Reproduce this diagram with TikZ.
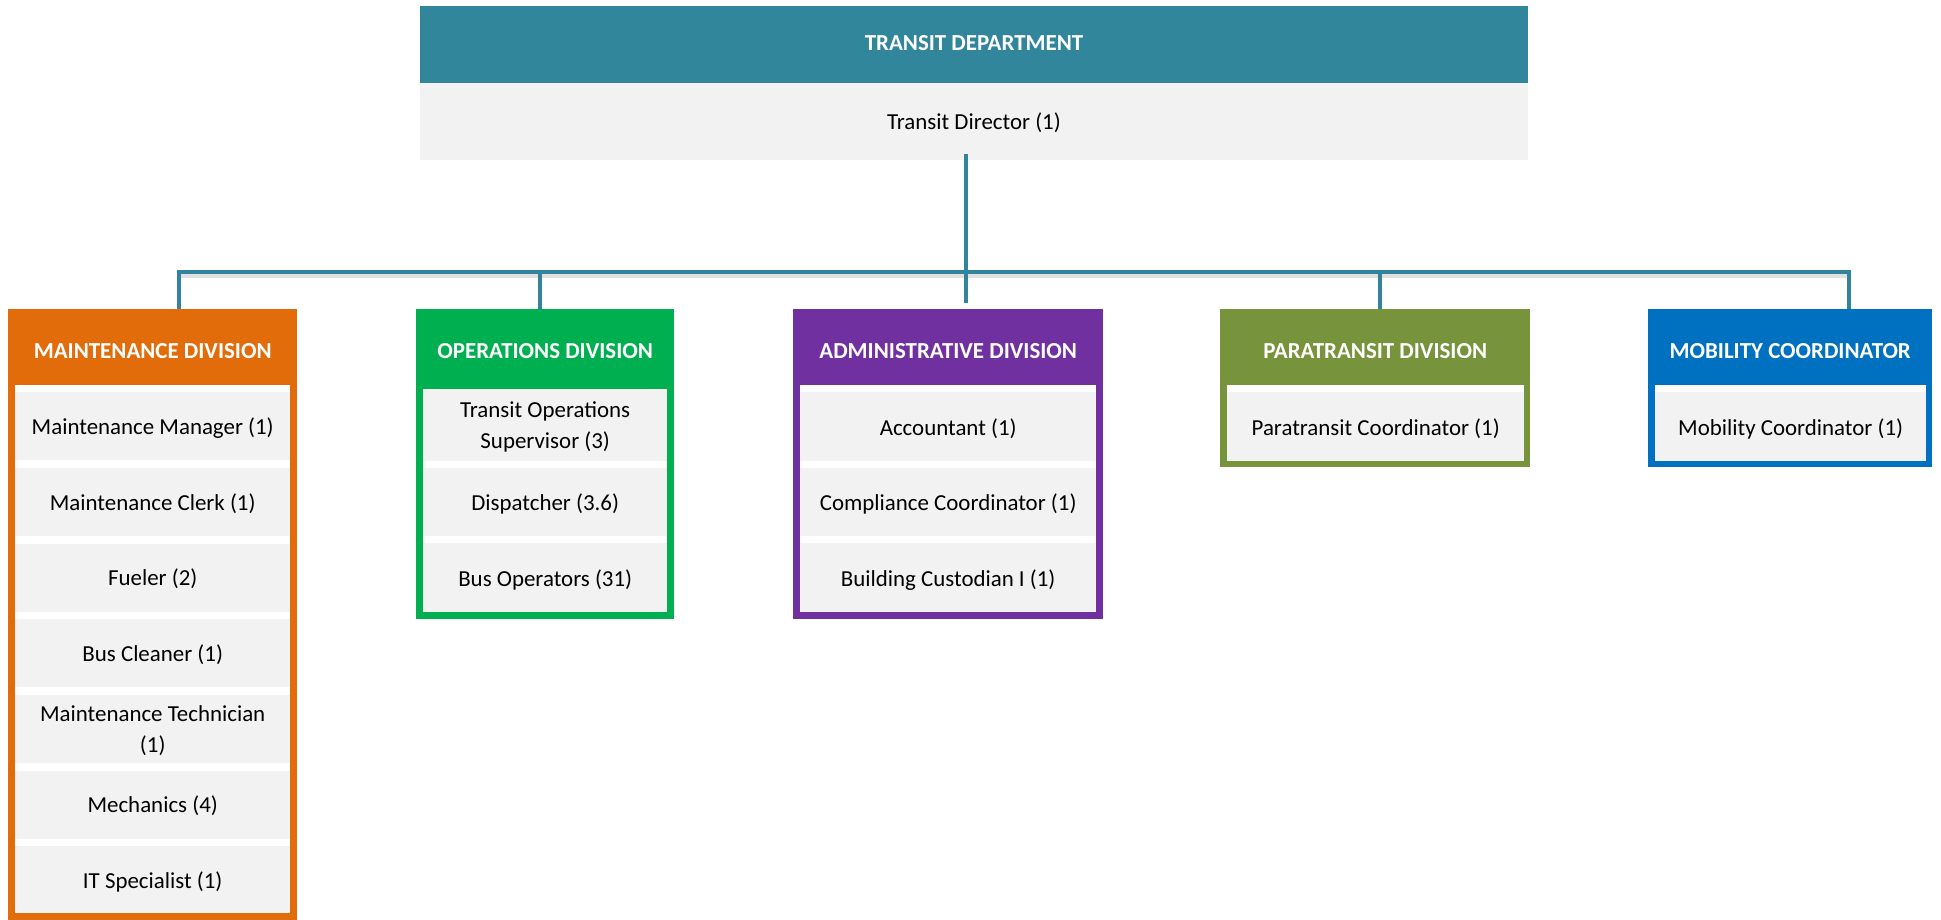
\documentclass[tikz,border=0pt]{standalone}
\usepackage{fontspec}
\setmainfont{Carlito}
\definecolor{teal}{HTML}{31869B}
\definecolor{linec}{HTML}{31849B}
\definecolor{cellgray}{HTML}{F2F2F2}
\definecolor{mntc}{HTML}{E36C0A}
\definecolor{opsc}{HTML}{00B050}
\definecolor{admc}{HTML}{7030A0}
\definecolor{parc}{HTML}{77933C}
\definecolor{mobc}{HTML}{0070C0}
\tikzset{
  frame/.style={draw=none, inner sep=0pt, anchor=north west},
  inner/.style={fill=white, draw=none, inner sep=0pt, anchor=north west},
  cell/.style={fill=cellgray, draw=none, inner sep=0pt, anchor=north west,
    font=\fontsize{22.9}{31.7}\selectfont, align=center, text=black, text depth=0pt},
  headtxt/.style={font=\fontsize{22.9}{27}\selectfont\bfseries, text=white, inner sep=0pt},
  conn/.style={draw=linec, line width=4pt},
  connshadow/.style={draw=black!12, line width=4pt},
}
\begin{document}
\begin{tikzpicture}[x=1pt, y=-1pt]
\useasboundingbox (0,0) rectangle (1941,920);

% department box
\node[frame, fill=teal, minimum width=1108pt, minimum height=77pt] (dept) at (420,6) {};
\node[headtxt] (depttxt) at (974,43) {TRANSIT DEPARTMENT};
\node[cell, minimum width=1108pt, minimum height=76.5pt] (dir) at (420,83) {};
\node[font=\fontsize{22.9}{27}\selectfont, inner sep=0pt] (dirtxt) at (974,123) {Transit Director (1)};

% division frames
\node[frame, fill=mntc, minimum width=289pt, minimum height=611pt] (mnt) at (8,309) {};
\node[frame, fill=opsc, minimum width=258pt, minimum height=310pt] (ops) at (416,309) {};
\node[frame, fill=admc, minimum width=310pt, minimum height=310pt] (adm) at (793,309) {};
\node[frame, fill=parc, minimum width=310pt, minimum height=158pt] (par) at (1220,309) {};
\node[frame, fill=mobc, minimum width=284pt, minimum height=158pt] (mob) at (1648,309) {};

% headings
\node[headtxt] at (mnt.center |- 0,351) {MAINTENANCE DIVISION};
\node[headtxt] at (ops.center |- 0,351) {OPERATIONS DIVISION};
\node[headtxt] at (adm.center |- 0,351) {ADMINISTRATIVE DIVISION};
\node[headtxt] at (par.center |- 0,351) {PARATRANSIT DIVISION};
\node[headtxt] at (mob.center |- 0,351) {MOBILITY COORDINATOR};

% white inner panels
\node[inner, minimum width=275pt, minimum height=528pt] (mntin) at (15,385) {};
\node[inner, minimum width=244pt, minimum height=223pt] (opsin) at (423,389) {};
\node[inner, minimum width=296pt, minimum height=227pt] (admin) at (800,385) {};
\node[inner, minimum width=297pt, minimum height=76pt] (parin) at (1227,385) {};
\node[inner, minimum width=271pt, minimum height=76pt] (mobin) at (1655,385) {};

% maintenance cells
\node[cell, minimum width=275pt, minimum height=68pt] (m1) at (15,392) {Maintenance Manager (1)};
\node[cell, minimum width=275pt, minimum height=68pt] (m2) at (15,467.7) {Maintenance Clerk (1)};
\node[cell, minimum width=275pt, minimum height=68pt] (m3) at (15,543.3) {Fueler (2)};
\node[cell, minimum width=275pt, minimum height=68pt] (m4) at (15,619) {Bus Cleaner (1)};
\node[cell, minimum width=275pt, minimum height=68pt] (m5) at (15,694.7) {Maintenance Technician\\(1)};
\node[cell, minimum width=275pt, minimum height=68pt] (m6) at (15,770.3) {Mechanics (4)};
\node[cell, minimum width=275pt, minimum height=67pt] (m7) at (15,846) {IT Specialist (1)};

% operations cells
\node[cell, minimum width=244pt, minimum height=72pt] (o1) at (423,389) {Transit Operations\\Supervisor (3)};
\node[cell, minimum width=244pt, minimum height=68pt] (o2) at (423,468) {Dispatcher (3.6)};
\node[cell, minimum width=244pt, minimum height=69pt] (o3) at (423,543) {Bus Operators (31)};

% administrative cells
\node[cell, minimum width=296pt, minimum height=69pt] (a1) at (800,392) {Accountant (1)};
\node[cell, minimum width=296pt, minimum height=68pt] (a2) at (800,468) {Compliance Coordinator (1)};
\node[cell, minimum width=296pt, minimum height=69pt] (a3) at (800,543) {Building Custodian I (1)};

% paratransit and mobility cells
\node[cell, minimum width=297pt, minimum height=69pt] (p1) at (1227,392) {Paratransit Coordinator (1)};
\node[cell, minimum width=271pt, minimum height=69pt] (b1) at (1655,392) {Mobility Coordinator (1)};

% connectors
\coordinate (busL) at (179,272);
\coordinate (dirfoot) at (965.7,154);
\coordinate (mntTop) at (179,309);
\coordinate (opsTop) at (540,309);
\coordinate (admTop) at (965.7,303);
\coordinate (parTop) at (1379.6,309);
\coordinate (mobTop) at (1849,309);

\draw[connshadow] ([shift={(1,4)}]busL) -- ([shift={(1,4)}]busL -| mobTop);
\draw[conn] (mntTop) -- (mntTop |- busL) -- (busL -| mobTop) -- (mobTop);
\draw[conn] (opsTop) -- (opsTop |- busL);
\draw[conn] (parTop) -- (parTop |- busL);
\draw[conn] (dirfoot) -- (admTop);
\end{tikzpicture}
\end{document}
